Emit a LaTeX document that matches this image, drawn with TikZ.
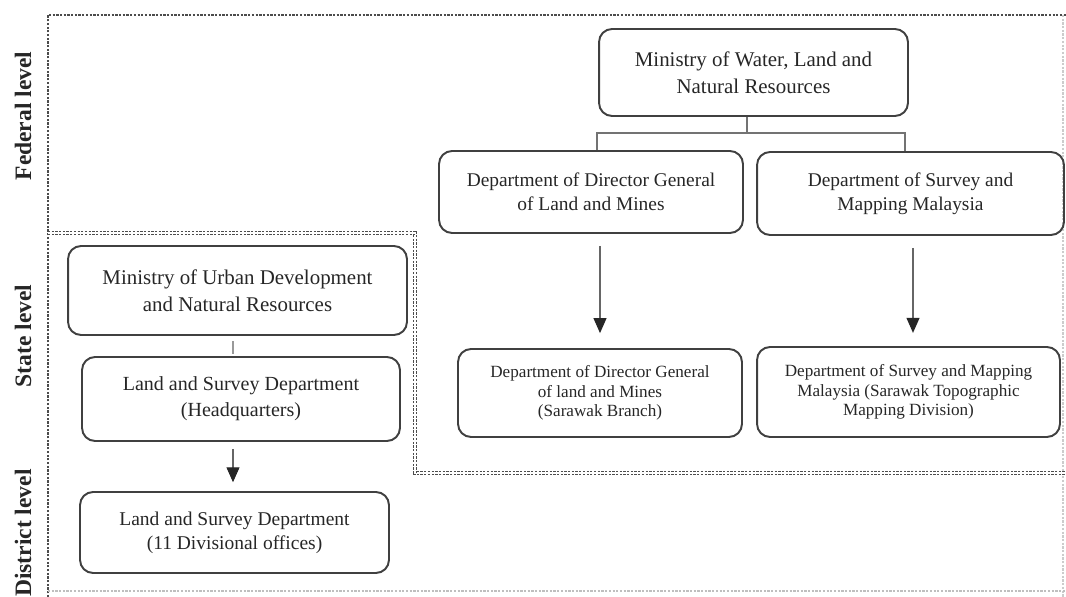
\documentclass[tikz,border=0pt]{standalone}
\usepackage{fontspec}
\setmainfont{Liberation Serif}
\usetikzlibrary{arrows.meta,positioning}

\begin{document}
\begin{tikzpicture}[
    x=0.02cm, y=-0.02cm,
    unit/.style={draw=black!75, line width=1.1pt, rounded corners=0.26cm, align=center, text=black!85, inner sep=0pt},
    ministry/.style={unit, font=\fontsize{11.9}{15.3}\selectfont},
    dept/.style={unit, font=\fontsize{11.05}{13.8}\selectfont},
    branch/.style={unit, font=\fontsize{9.75}{11.2}\selectfont},
    level/.style={rotate=90, font=\fontsize{13.4}{16}\selectfont\bfseries, text=black!85},
    frame/.style={draw=black!70, line width=0.6pt, dash pattern=on 1.3pt off 0.8pt},
    link/.style={draw=black!55, line width=0.6pt},
    arrow/.style={-{Triangle[length=0.3cm, width=0.26cm, color=black!85]}, draw=black!60, line width=0.6pt}
]
\useasboundingbox (0,0) rectangle (1066,597);

% Level frames
\draw[frame] (48,597) -- (48,15) -- (1066,15);
\draw[frame, draw=black!20] (1063,15) -- (1063,597);
\draw[frame, draw=black!25] (48,591) -- (1066,591);
\draw[frame, double=white, double distance=1.3pt] (48,233) -- (415,233) -- (415,473) -- (1066,473);

% Level labels
\node[level] (fedlabel) at (23,116) {Federal level};
\node[level] (statelabel) at (23,336) {State level};
\node[level] (distlabel) at (23,533) {District level};

% Federal level
\node[ministry, minimum width=6.18cm, minimum height=1.74cm] (water) at (753.5,72.5) {Ministry of Water, Land and\\Natural Resources};
\node[dept, minimum width=6.08cm, minimum height=1.64cm] (dgfed) at (591,192) {Department of Director General\\of Land and Mines};
\node[dept, minimum width=6.14cm, minimum height=1.66cm] (smfed) at (910.5,193.5) {Department of Survey and\\Mapping Malaysia};

% State level (Sarawak branches)
\node[branch, minimum width=5.68cm, minimum height=1.76cm] (dgsar) at (600,393) {Department of Director General\\of land and Mines\\(Sarawak Branch)};
\node[branch, minimum width=6.06cm, minimum height=1.8cm] (smsar) at (908.5,392) {Department of Survey and Mapping\\Malaysia (Sarawak Topographic\\Mapping Division)};

% State level (Sarawak)
\node[ministry, minimum width=6.78cm, minimum height=1.78cm] (urban) at (237.5,290.5) {Ministry of Urban Development\\and Natural Resources};
\node[ministry, font=\fontsize{11.4}{14.7}\selectfont, minimum width=6.36cm, minimum height=1.68cm] (hq) at (241,399) {Land and Survey Department\\(Headquarters)};

% District level
\node[ministry, font=\fontsize{11.1}{13.6}\selectfont, minimum width=6.18cm, minimum height=1.62cm] (div) at (234.5,532.5) {Land and Survey Department\\(11 Divisional offices)};

% Edges
\coordinate (fork) at (747,133);
\coordinate (forkL) at (597,133);
\coordinate (forkR) at (905,133);
\coordinate (drop) at (913,0);
\coordinate (stem) at (233,0);
\draw[link] (fork |- water.south) -- (fork);
\draw[link] (forkL |- dgfed.north) -- (forkL) -- (forkR) -- (forkR |- smfed.north);
\draw[arrow, shorten <=6.8pt, shorten >=8.5pt] (dgfed.south -| dgsar.north) -- (dgsar.north);
\draw[arrow, shorten <=6.8pt, shorten >=7.5pt] (smfed.south -| drop) -- (smsar.north -| drop);
\draw[link, draw=black!40, shorten <=3pt, shorten >=1pt] (urban.south -| stem) -- (hq.north -| stem);
\draw[arrow, shorten <=4pt, shorten >=5pt] (hq.south -| stem) -- (div.north -| stem);
\end{tikzpicture}
\end{document}
